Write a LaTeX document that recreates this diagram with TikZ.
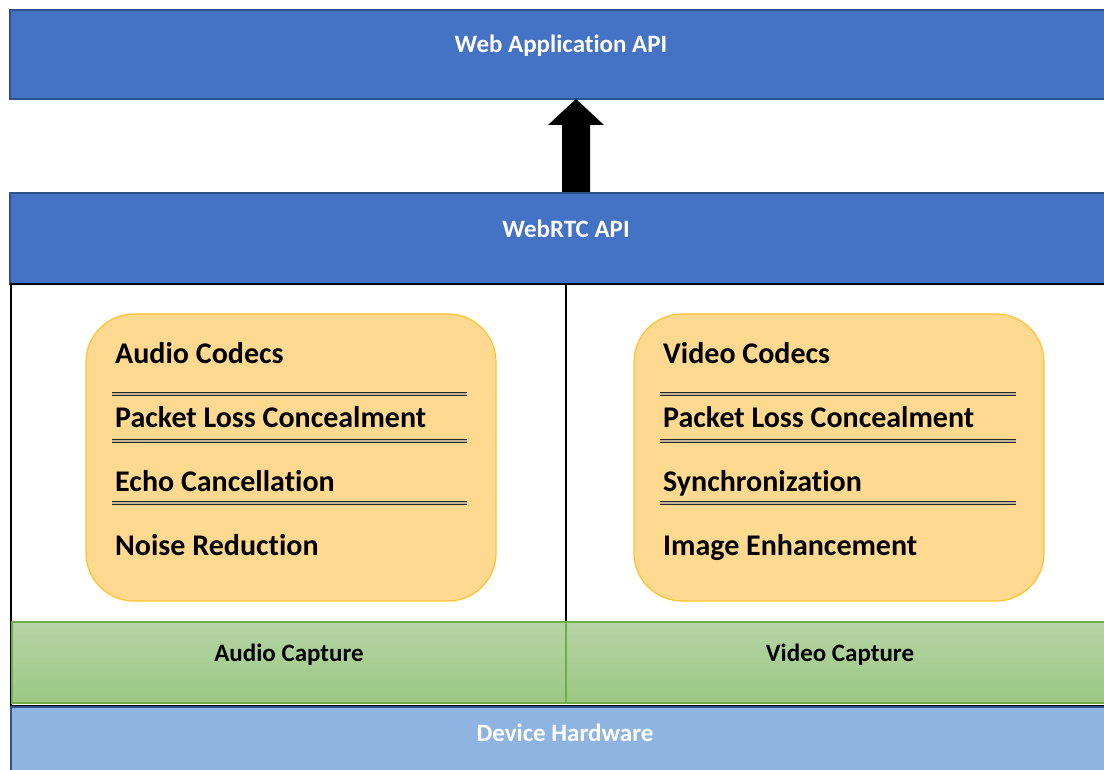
\documentclass[tikz,border=0pt]{standalone}
\usepackage{fontspec}
\setmainfont[Ligatures=NoCommon]{Carlito}
\definecolor{barblue}{HTML}{4472C4}
\definecolor{barline}{HTML}{2F528F}
\definecolor{hwblue}{HTML}{8FB4E2}
\definecolor{orfill}{HTML}{FFD98F}
\definecolor{orline}{HTML}{FFC22E}
\definecolor{grtop}{HTML}{B5D4A6}
\definecolor{grbot}{HTML}{9CC983}
\definecolor{grline}{HTML}{70AD47}
\tikzset{
  bluebar/.style={draw=barline, line width=1.5pt, fill=barblue},
  bartext/.style={font=\bfseries\fontsize{25}{29}\selectfont, text=white},
  module/.style={draw=orline, line width=1.2pt, fill=orfill, rounded corners=48pt},
  item/.style={font=\bfseries\fontsize{30}{34}\selectfont, anchor=base west, inner sep=0pt},
  sep/.style={draw=black!85, line width=0.9pt, double=orfill!60!black!60, double distance=1.6pt},
  capture/.style={draw=grline, line width=1.2pt, top color=grtop, bottom color=grbot},
  captext/.style={font=\bfseries\fontsize{25}{29}\selectfont, text=black},
}
\begin{document}
\begin{tikzpicture}[x=1pt, y=-1pt]
\useasboundingbox (0,0) rectangle (1104,770);
\clip (0,0) rectangle (1104,770);
\fill[white] (0,0) rectangle (1104,770);

% top layer
\draw[bluebar] (10,10) rectangle (1120,99);
\node[bartext] (webapp) at (561,46) {Web Application API};

% WebRTC layer
\draw[bluebar] (10,193) rectangle (1120,284);
\node[bartext] (webrtc) at (566,229) {WebRTC API};

% arrow from WebRTC API up to the application layer
\coordinate (arrowbase) at (576,192);
\coordinate (arrowtip) at (576,99);
\fill[black] (arrowbase) ++(-14,0) -- ++(0,-67) -- ++(-14,0) -- (arrowtip) -- (604,125) -- (590,125) -- (590,192) -- cycle;

% engine frame
\draw[black, line width=1.8pt] (11,284) -- (11,706) -- (1120,706);
\draw[black, line width=1.8pt] (10,284) -- (1120,284);
\draw[black, line width=1.5pt] (566,284) -- (566,622);

% audio module
\draw[module] (86,314) rectangle (496,601);
\node[item] (ac) at (115,363) {Audio Codecs};
\node[item] (apl) at (115,427) {Packet Loss Concealment};
\node[item] (aec) at (115,491) {Echo Cancellation};
\node[item] (anr) at (115,555) {Noise Reduction};
\draw[sep] (112,394) -- (467,394);
\draw[sep] (112,441) -- (467,441);
\draw[sep] (112,503) -- (467,503);

% video module
\draw[module] (634,314) rectangle (1044,601);
\node[item] (vc) at (663,363) {Video Codecs};
\node[item] (vpl) at (663,427) {Packet Loss Concealment};
\node[item] (vs) at (663,491) {Synchronization};
\node[item] (vie) at (663,555) {Image Enhancement};
\draw[sep] (660,394) -- (1016,394);
\draw[sep] (660,441) -- (1016,441);
\draw[sep] (660,503) -- (1016,503);

% capture layer
\draw[capture] (12,622) rectangle (566,703);
\draw[capture] (566,622) rectangle (1120,703);
\node[captext] (acap) at (289,655) {Audio Capture};
\node[captext] (vcap) at (840,655) {Video Capture};

% hardware layer
\draw[draw=barline, line width=1.5pt, fill=hwblue] (11,707) rectangle (1120,790);
\node[bartext] (hw) at (565,733) {Device Hardware};
\end{tikzpicture}
\end{document}
